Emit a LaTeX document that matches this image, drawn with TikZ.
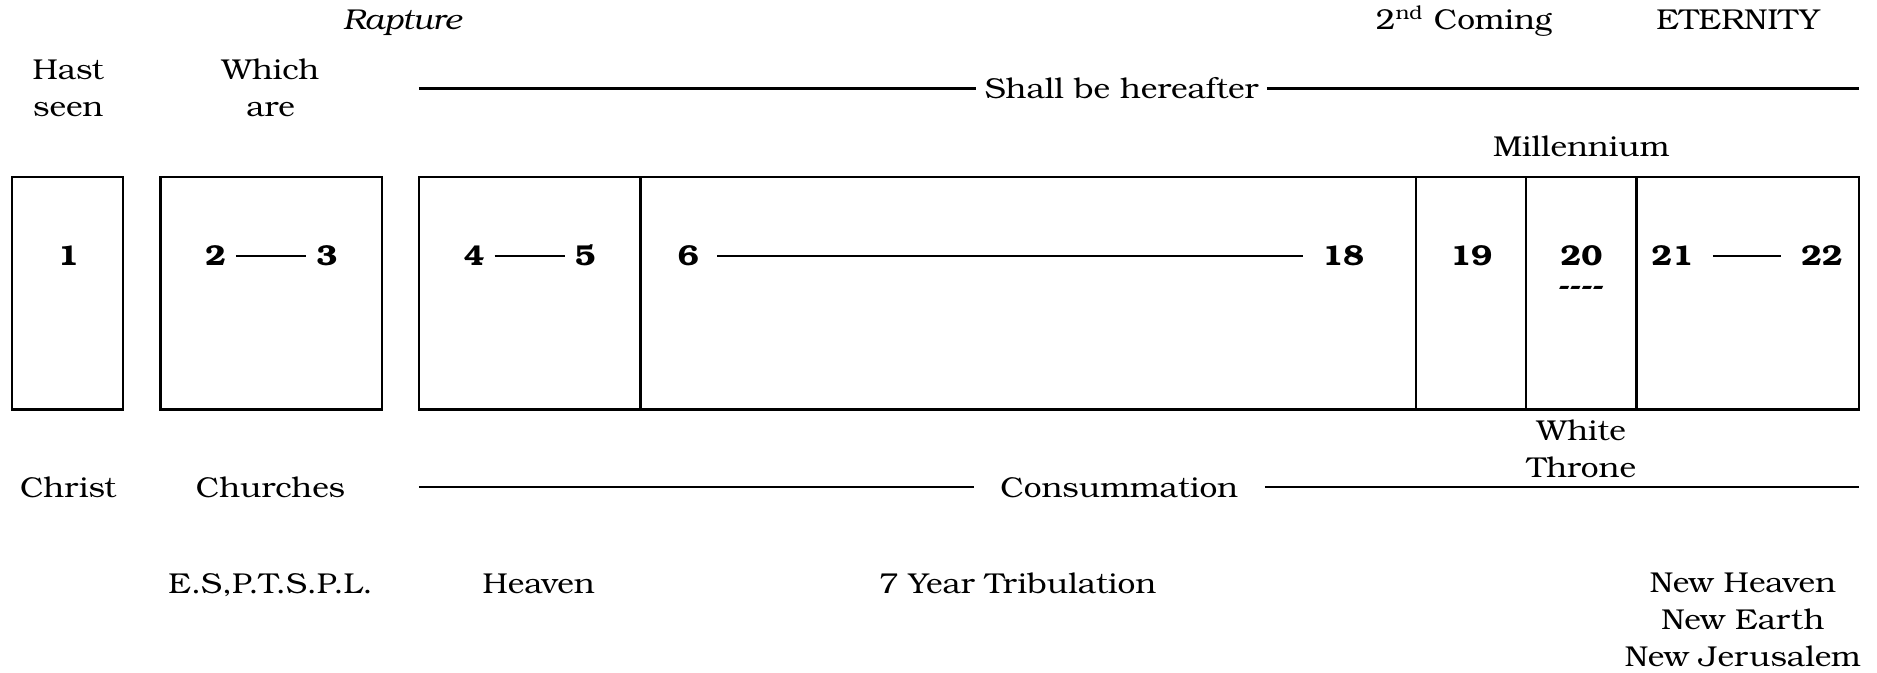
\documentclass[tikz,border=0pt]{standalone}
\usepackage{fontspec}
\setmainfont[FakeStretch=1.1]{TeX Gyre Bonum}
\tikzset{
	lbl/.style={font=\fontsize{12}{15.5}\selectfont, align=center, anchor=base},
	num/.style={font=\fontsize{12}{15.5}\selectfont\bfseries, anchor=base, inner xsep=4pt},
	rule/.style={line width=1pt},
	Box/.style={draw, line width=1pt}
}
\begin{document}
\begin{tikzpicture}[x=0.5pt,y=-0.5pt]
\useasboundingbox (0,0) rectangle (1568,562);

\draw [Box] (10,148) rectangle (103,342);
\draw [Box] (134,148) rectangle (319,342);
\draw [Box] (350,148) rectangle (1553,342);
\draw [rule] (535,148) -- (535,342);
\draw [rule] (1183,148) -- (1183,342);
\draw [rule] (1275,148) -- (1275,342);
\draw [rule] (1367,148) -- (1367,342);

\draw (336,25) node [lbl] (rapture) {\itshape Rapture};
\draw (1223,25) node [lbl] (coming) {2\textsuperscript{nd} Coming};
\draw (1452,25) node [lbl] (eternity) {ETERNITY};
\draw (57,97) node [lbl] (hast) {Hast\\seen};
\draw (226,97) node [lbl] (which) {Which\\are};
\draw (937,82) node [lbl] (shall) {Shall be hereafter};
\draw (1321,131) node [lbl] (mill) {Millennium};

\coordinate (shallL) at (350,74);
\coordinate (shallR) at (1553,74);
\draw [rule] (shallL) -- (shall.west |- shallL);
\draw [rule] (shall.east |- shallR) -- (shallR);

\draw (57,222) node [num] (c1) {1};
\draw (180,222) node [num] (c2) {2};
\draw (273,222) node [num] (c3) {3};
\draw (396,222) node [num] (c4) {4};
\draw (489,222) node [num] (c5) {5};
\draw (575,222) node [num] (c6) {6};
\draw (1122,222) node [num] (c18) {18};
\draw (1229,222) node [num] (c19) {19};
\draw (1321,222) node [num] (c20) {20};
\draw (1397,222) node [num] (c21) {21};
\draw (1522,222) node [num] (c22) {22};
\draw (1321,247) node [num] (dash) {-{}-{}-{}-};

\draw [rule] (c2.east |- 0,214) -- (c3.west |- 0,214);
\draw [rule] (c4.east |- 0,214) -- (c5.west |- 0,214);
\draw [rule, shorten <=3.5pt, shorten >=4pt] (c6.east |- 0,214) -- (c18.west |- 0,214);
\draw [rule, shorten <=4pt, shorten >=4pt] (c21.east |- 0,214) -- (c22.west |- 0,214);

\draw (1321,399) node [lbl] (white) {White\\Throne};
\draw (57,416) node [lbl] (christ) {Christ};
\draw (226,416) node [lbl] (churches) {Churches};
\draw (935,416) node [lbl, inner xsep=11pt] (consum) {Consummation};

\coordinate (consL) at (350,407);
\coordinate (consR) at (1553,407);
\draw [rule] (consL) -- (consum.west |- consL);
\draw [rule] (consum.east |- consR) -- (consR);

\draw (226,496) node [lbl] (esp) {E.S,P.T.S.P.L.};
\draw (450,496) node [lbl] (heaven) {Heaven};
\draw (850,496) node [lbl] (trib) {7 Year Tribulation};
\draw (1456,557) node [lbl] (newh) {New Heaven\\New Earth\\New Jerusalem};

\end{tikzpicture}
\end{document}
